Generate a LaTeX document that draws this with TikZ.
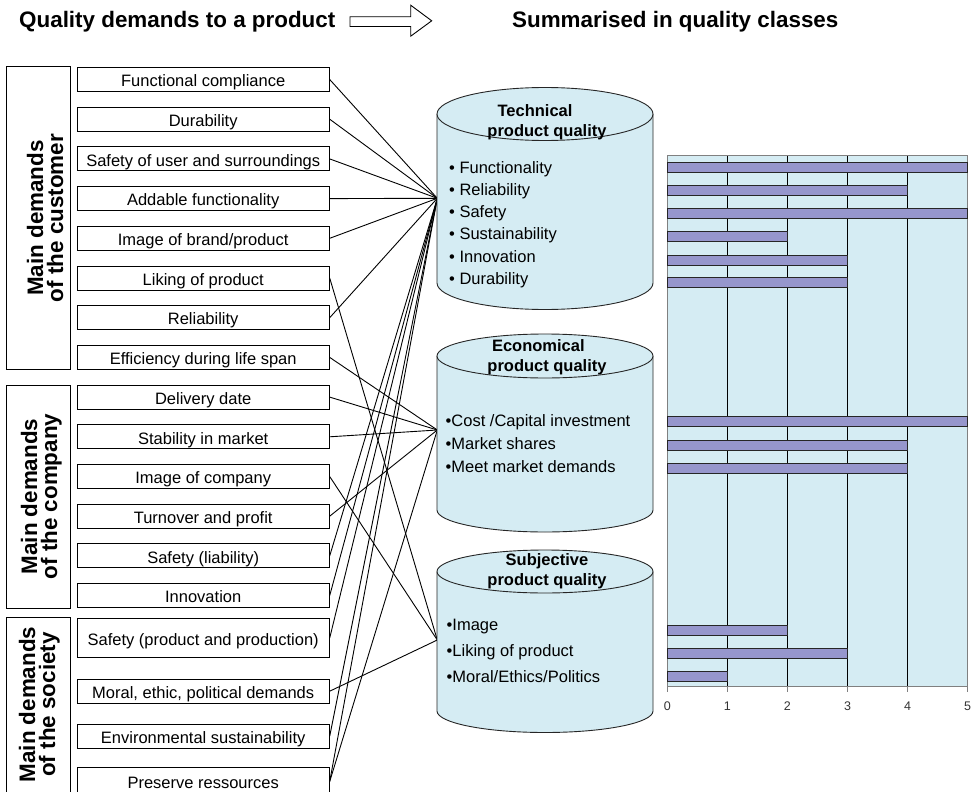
\documentclass[tikz,border=0pt]{standalone}
\usepackage{fontspec}
\setmainfont{Liberation Sans}
\usetikzlibrary{positioning}

\definecolor{classblue}{RGB}{213,236,243}
\definecolor{barblue}{RGB}{150,150,204}
\definecolor{framegray}{RGB}{128,128,128}

\newcommand{\itemfont}{\fontsize{16.5}{19}\selectfont}
\newcommand{\headfont}{\fontsize{22.4}{20}\selectfont\bfseries}

% cylinder of a quality class: x centre, y top, y bottom, y radius
\newcommand{\classcylinder}[4]{
    \fill[classblue] (#1-108,#2) -- (#1-108,#3)
        arc[start angle=180, end angle=0, x radius=108, y radius=#4] -- (#1+108,#2) -- cycle;
    \draw[cylinder line] (#1-108,#2) -- (#1-108,#3)
        arc[start angle=180, end angle=0, x radius=108, y radius=#4] -- (#1+108,#2);
    \draw[cylinder line, fill=classblue] (#1,#2) ellipse[x radius=108, y radius=#4];
}

\tikzset{
    demand/.style={draw, line width=1pt, minimum width=252pt, minimum height=24pt,
        inner sep=0pt, text height=14.4pt, text depth=0pt, font=\itemfont},
    demandgroup/.style={draw, line width=1pt, minimum width=64pt, inner sep=0pt},
    group label/.style={rotate=90, align=center, inner sep=0pt, font=\headfont},
    headline/.style={anchor=base west, inner sep=0pt, font=\headfont},
    link/.style={line width=0.9pt},
    cylinder line/.style={line width=0.9pt, draw=black!85},
    class title/.style={align=center, inner sep=0pt, font=\fontsize{16.5}{20}\selectfont\bfseries},
    class item/.style={anchor=base west, inner sep=0pt, font=\itemfont},
    valuebar/.style={draw=black!85, line width=0.9pt, fill=barblue},
}

\begin{document}
\begin{tikzpicture}[x=1pt, y=-1pt]
    \useasboundingbox (0,0) rectangle (977,792);

    % headings
    \node[headline] (demandhead) at (19,27.5) {Quality demands to a product};
    \node[headline] (classhead) at (512,27.5) {Summarised in quality classes};
    \draw[line width=0.9pt] (350,16.8) -- (410.7,16.8) -- (410.7,5.2) -- (431.7,20.8)
        -- (410.7,36.2) -- (410.7,26.5) -- (350,26.5) -- cycle;

    % groups of demands
    \node[demandgroup, minimum height=302pt] (customer) at (38,218) {};
    \node[demandgroup, minimum height=223pt] (company) at (38,496.5) {};
    \node[demandgroup, minimum height=190pt] (society) at (38,712) {};
    \node[group label] (customerlabel) at (45,218) {Main demands\\of the customer};
    \node[group label] (companylabel) at (41.4,496.5) {Main demands\\of the company};
    \node[group label] (societylabel) at (39.4,704.5) {Main demands\\of the society};

    % single demands
    \foreach \txt [count=\k] in {Functional compliance, Durability, Safety of user and surroundings,
        Addable functionality, Image of brand/product, Liking of product, Reliability,
        Efficiency during life span, Delivery date, Stability in market, Image of company,
        Turnover and profit, Safety (liability), Innovation}
        \node[demand] (d\k) at (203.2,39.8+39.7*\k) {\txt};
    \node[demand, minimum height=39.4pt] (d15) at (203.2,638) {Safety (product and production)};
    \node[demand] (d16) at (203.2,691.2) {Moral, ethic, political demands};
    \node[demand] (d17) at (203.2,736.2) {Environmental sustainability};
    \node[demand, minimum height=28pt] (d18) at (203.2,781.5) {Preserve ressources};

    % demands to classes
    \coordinate (techin) at (437.3,198.3);
    \coordinate (econin) at (437.3,430);
    \coordinate (subjin) at (437.3,640);
    \foreach \d in {d1,d2,d3,d4,d5,d7,d13,d14,d15,d17,d18}
        \draw[link] (\d.east) -- (techin);
    \foreach \d in {d8,d9,d10,d12,d18}
        \draw[link] (\d.east) -- (econin);
    \foreach \d in {d6,d11,d16}
        \draw[link] (\d.east) -- (subjin);

    % quality classes
    \classcylinder{545}{114}{283}{26.5}
    \classcylinder{545}{356}{510}{22}
    \classcylinder{545}{571.5}{711}{21.5}
    \node[class title] (techtitle) at (547,122.4) {Technical\hspace{24pt}\mbox{}\\product quality};
    \node[class title] (econtitle) at (547,357.5) {Economical\hspace{17.4pt}\mbox{}\\product quality};
    \node[class title] (subjtitle) at (547,570.9) {Subjective\\product quality};
    \foreach \txt [count=\k] in {Functionality, Reliability, Safety, Sustainability, Innovation, Durability}
        \node[class item] (techitem\k) at (449,151.1+22.2*\k) {• \txt};
    \foreach \txt [count=\k] in {Cost /Capital investment, Market shares, Meet market demands}
        \node[class item] (econitem\k) at (445.5,402.65+23.35*\k) {•\txt};
    \foreach \txt [count=\k] in {Image, Liking of product, Moral/Ethics/Politics}
        \node[class item] (subjitem\k) at (446.5,604.7+26*\k) {•\txt};

    % bar chart
    \fill[classblue] (667.3,155) rectangle (967.7,686.7);
    \foreach \v in {1,...,4}
        \draw[line width=0.9pt] (667.3+60.08*\v,155) -- (667.3+60.08*\v,686.7);
    \draw[framegray, line width=0.9pt] (667.3,155) rectangle (967.7,686.7);
    \foreach \v in {0,...,5} {
        \draw[framegray, line width=0.9pt] (667.3+60.08*\v,686.7) -- ++(0,5);
        \node[font=\fontsize{12.5}{14}\selectfont, text=black!80] (tick\v) at (667.3+60.08*\v,706) {\v};
    }
    \foreach \y/\v in {167.3/5, 190.7/4, 213.7/5, 236.7/2, 260/3, 282.5/3,
        421.7/5, 445.7/4, 468.3/4, 630.7/2, 653.5/3, 676.7/1}
        \draw[valuebar] (667.3,\y-5) rectangle (667.3+60.08*\v,\y+5);
\end{tikzpicture}
\end{document}
